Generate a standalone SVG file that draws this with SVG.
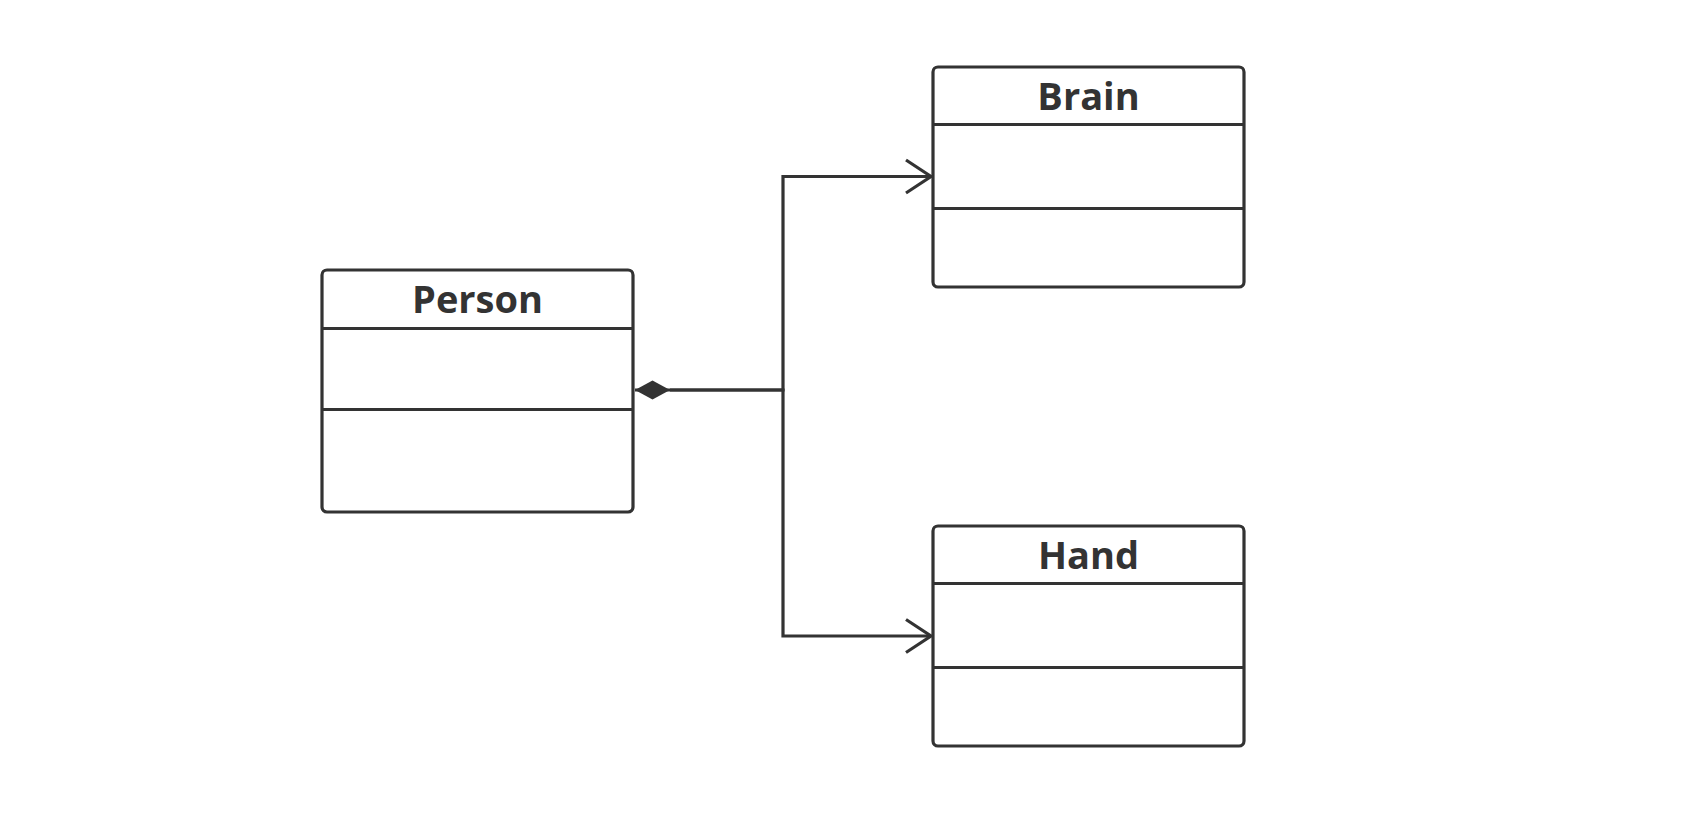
<svg xmlns="http://www.w3.org/2000/svg" width="1704" height="814" viewBox="0 0 1704 814">
  <style>
    .box { fill: #ffffff; stroke: #333333; stroke-width: 3.2; }
    .sep { stroke: #333333; stroke-width: 3.2; fill: none; }
    .title { font-family: "Open Sans", "Noto Sans", "Liberation Sans", sans-serif; font-weight: bold; font-size: 38px; fill: #333333; text-anchor: middle; }
    .conn { fill: none; stroke: #333333; stroke-width: 3.2; }
  </style>
  <defs>
    <marker id="openArrow" markerUnits="userSpaceOnUse" viewBox="-2 -2 30 38" refX="25" refY="16.5" markerWidth="30" markerHeight="38" orient="auto">
      <path d="M0,0 L25,16.5 L0,33" fill="none" stroke="#333333" stroke-width="3.2"/>
    </marker>
    <marker id="diamond" markerUnits="userSpaceOnUse" viewBox="0 0 36 20" refX="0" refY="10" markerWidth="36" markerHeight="20" orient="auto">
      <polygon points="0,10 17.5,0.5 35,10 17.5,19.5" fill="#333333"/>
    </marker>
  </defs>
  <rect width="1704" height="814" fill="#ffffff"/>

  <g id="connectors">
    <path class="conn" d="M635,390 H783 V176.5 H931" marker-start="url(#diamond)" marker-end="url(#openArrow)"/>
    <path class="conn" d="M670,390 H783 V636 H931" marker-end="url(#openArrow)"/>
  </g>

  <g id="person">
    <rect class="box" x="322" y="270" width="311" height="242" rx="5"/>
    <line class="sep" x1="322" y1="328.5" x2="633" y2="328.5"/>
    <line class="sep" x1="322" y1="409.5" x2="633" y2="409.5"/>
    <text class="title" x="477.5" y="313">Person</text>
  </g>

  <g id="brain">
    <rect class="box" x="933" y="67" width="311" height="220" rx="5"/>
    <line class="sep" x1="933" y1="124.5" x2="1244" y2="124.5"/>
    <line class="sep" x1="933" y1="208.5" x2="1244" y2="208.5"/>
    <text class="title" x="1088.5" y="110">Brain</text>
  </g>

  <g id="hand">
    <rect class="box" x="933" y="526" width="311" height="220" rx="5"/>
    <line class="sep" x1="933" y1="583.5" x2="1244" y2="583.5"/>
    <line class="sep" x1="933" y1="667.5" x2="1244" y2="667.5"/>
    <text class="title" x="1088.5" y="569">Hand</text>
  </g>
</svg>
